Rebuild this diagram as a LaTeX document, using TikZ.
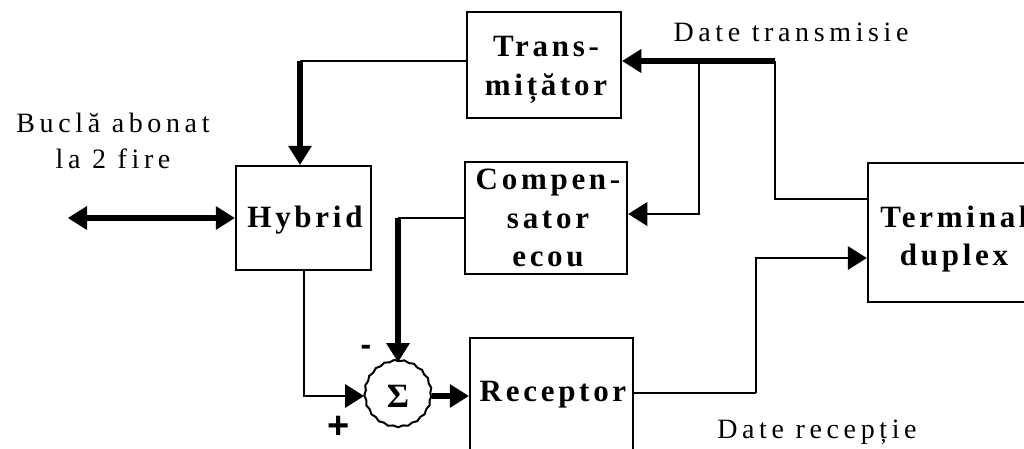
\documentclass[tikz,border=0pt]{standalone}
\usepackage{fontspec}
\setmainfont{Liberation Serif}
\newfontfamily\spaced{Liberation Serif}[LetterSpace=16.5]
\newfontfamily\boldspaced{Liberation Serif}[LetterSpace=12]
\newfontfamily\signfont{Liberation Sans}
\usetikzlibrary{arrows.meta,decorations.pathmorphing}

\tikzset{
  blk/.style={draw, line width=2.5pt, inner sep=0pt},
  btxt/.style={font={\boldspaced\bfseries\fontsize{31}{38.5}\selectfont}, align=center, inner sep=0pt},
  ltxt/.style={font={\spaced\fontsize{28}{36}\selectfont}, align=center, inner sep=0pt},
  sign/.style={font={\signfont\bfseries\fontsize{#1}{#1}\selectfont}, inner sep=0pt, text depth=0pt},
  wire/.style={line width=2pt},
  bus/.style={line width=6pt},
  tip/.tip={Triangle[length=19pt,width=24pt,line width=0pt]},
  head/.style={-tip},
}

\begin{document}
\begin{tikzpicture}[x=1pt, y=-1pt]
\useasboundingbox (0,0) rectangle (1024,448);
\clip (0,0) rectangle (1024,448);

% blocks
\node[blk, minimum width=154pt, minimum height=106pt] (trans) at (544,65) {};
\node[blk, minimum width=135pt, minimum height=104pt] (hyb) at (303.5,218) {};
\node[blk, minimum width=162pt, minimum height=112pt] (comp) at (546,218) {};
\node[blk, minimum width=168pt, minimum height=139pt] (term) at (952,232.5) {};
\node[blk, minimum width=163pt, minimum height=114pt] (rec) at (551.5,395) {};

% block captions
\node[btxt] (transtxt) at (546,70) {Trans-\\mițător};
\node[btxt] (hybtxt) at (305,220) {Hybrid};
\node[btxt] (comptxt) at (548,218) {Compen-\\sator\\ecou};
\node[btxt] (termtxt) at (954,239) {Terminal\\duplex};
\node[btxt] (rectxt) at (553,395) {Receptor};

% summing junction
\node[draw, circle, minimum size=66pt, line width=2pt, inner sep=0pt,
      decorate, decoration={snake, amplitude=0.7pt, segment length=10pt},
      font={\bfseries\fontsize{34}{34}\selectfont}] (sig) at (398,396) {Σ};
\node[sign=32, text height=0.54em] (minus) at (366,353) {-};
\node[sign=38, text height=0.64em] (plus) at (339,435) {+};

% free labels
\node[ltxt] (loopl) at (113,140.5) {Buclă abonat\\la 2 fire};
\node[ltxt] (txl) at (791,32) {Date transmisie};
\node[ltxt] (rxl) at (817,432) {Date recepție};

% connection points
\coordinate (loop) at (68,218);
\coordinate (hk) at (300,61);
\coordinate (dt) at (775,61);
\coordinate (tap) at (699,61);
\coordinate (ck) at (398,218);
\coordinate (rk) at (756,393);

% line side
\draw[bus, tip-tip] (loop) -- (hyb.west);

% transmit path
\draw[wire] ([yshift=4pt]trans.west) -- (hk);
\draw[bus, head] (hk) -- (hk |- hyb.north);
\draw[bus, head] (dt) -- ([yshift=4pt]trans.east);
\draw[wire] (dt) |- ([yshift=33.5pt]term.west);
\draw[wire, head] (tap) |- ([yshift=4pt]comp.east);

% echo cancellation and receive path
\draw[wire] (comp.west) -- (ck);
\draw[bus, head] (ck) -- (sig.north);
\draw[wire, head] (hyb.south) |- (sig.west);
\draw[bus, head] (sig.east) -- (sig.east -| rec.west);
\draw[wire] ([yshift=2pt]rec.east) -- (rk);
\draw[wire, head] (rk) |- ([yshift=-25.5pt]term.west);
\end{tikzpicture}
\end{document}
